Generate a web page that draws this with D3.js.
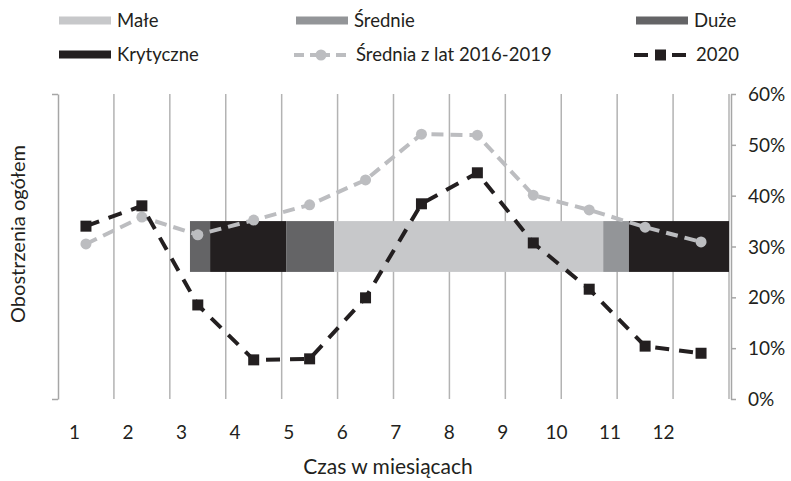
<!DOCTYPE html>
<html>
<head>
<meta charset="utf-8">
<script src="https://cdn.jsdelivr.net/npm/d3@7"></script>
<style>
  body { margin: 0; background: #fff; }
  svg text { font-family: Lato, "Open Sans", sans-serif; fill: #231f20; }
</style>
</head>
<body>
<svg id="chart"></svg>
<script>
// month labels and series (percent)
const months = [1, 2, 3, 4, 5, 6, 7, 8, 9, 10, 11, 12];
const avg2016_2019 = [30.5, 35.8, 32.3, 35.2, 38.2, 43.1, 52.1, 51.9, 40.1, 37.2, 33.8, 30.9];
const values2020 = [34.0, 38.0, 18.5, 7.7, 7.9, 19.9, 38.4, 44.5, 30.7, 21.6, 10.4, 9.0];
const yTicks = [0, 10, 20, 30, 40, 50, 60];

// restriction level phases along the time axis (months from start)
const phaseLevels = ["Duże", "Krytyczne", "Duże", "Małe", "Średnie", "Krytyczne"];
const phaseBounds = [2.36, 2.72, 4.08, 4.94, 9.75, 10.21, 12];
const phaseBand = [25, 35];

const levelNames = ["Małe", "Średnie", "Duże", "Krytyczne"];
const levelColors = ["#c7c8ca", "#939598", "#646466", "#231f20"];

const width = 791, height = 481;
const svg = d3.select("#chart").attr("width", width).attr("height", height);

const plotLeft = 58, plotRight = 729, plotTop = 94, plotBottom = 399;

const x = d3.scaleLinear().domain([0, 12]).range([plotLeft, plotRight]);
const y = d3.scaleLinear().domain([0, 60]).range([plotBottom, plotTop]);
const xLabel = d3.scalePoint().domain(months).range([74, 663]);
const color = d3.scaleOrdinal().domain(levelNames).range(levelColors);

// vertical gridlines
svg.append("g")
    .selectAll("line")
    .data(d3.range(1, 13))
    .join("line")
    .attr("x1", d => x(d)).attr("x2", d => x(d))
    .attr("y1", plotTop).attr("y2", plotBottom)
    .attr("stroke", "#b3b3b3")
    .attr("stroke-width", 1.5);

// left axis (no labels, end ticks only)
const leftAxis = svg.append("g")
    .attr("transform", `translate(${plotLeft},0)`)
    .call(d3.axisLeft(y).tickValues([0, 60]).tickFormat("").tickSize(6).tickSizeOuter(0));
leftAxis.selectAll("path, line").attr("stroke", "#a6a6a6").attr("stroke-width", 1.5);

// right axis
const rightAxis = svg.append("g")
    .attr("transform", `translate(${plotRight + 2},0)`)
    .call(d3.axisRight(y).tickValues(yTicks).tickFormat(d => d + "%").tickSize(5).tickSizeOuter(0));
rightAxis.selectAll("path, line").attr("stroke", "#a6a6a6").attr("stroke-width", 1.5);
rightAxis.selectAll("text")
    .attr("x", 17)
    .attr("dy", "0.35em")
    .style("font-size", "19px")
    .style("fill", "#231f20");

// bottom month labels
const bottomAxis = svg.append("g")
    .attr("transform", `translate(0,${plotBottom + 33})`)
    .call(d3.axisBottom(xLabel).tickSize(0));
bottomAxis.select(".domain").remove();
bottomAxis.selectAll("text")
    .attr("y", 0)
    .attr("dy", "0.35em")
    .style("font-size", "19px")
    .style("fill", "#231f20");

// phase bar
const phases = phaseLevels.map((lvl, i) => ({ level: lvl, start: phaseBounds[i], end: phaseBounds[i + 1] }));
svg.append("g")
    .selectAll("rect")
    .data(phases)
    .join("rect")
    .attr("x", d => x(d.start))
    .attr("width", d => x(d.end) - x(d.start))
    .attr("y", y(phaseBand[1]))
    .attr("height", y(phaseBand[0]) - y(phaseBand[1]))
    .attr("fill", d => color(d.level));

// lines
const mid = m => x(m - 0.5);
const line = d3.line().x((d, i) => mid(months[i])).y(d => y(d));

svg.append("path")
    .datum(avg2016_2019)
    .attr("fill", "none")
    .attr("stroke", "#bcbdc0")
    .attr("stroke-width", 4)
    .attr("stroke-dasharray", "12,7")
    .attr("d", line);

svg.append("g")
    .selectAll("circle")
    .data(avg2016_2019)
    .join("circle")
    .attr("cx", (d, i) => mid(months[i]))
    .attr("cy", d => y(d))
    .attr("r", 5.5)
    .attr("fill", "#bcbdc0");

svg.append("path")
    .datum(values2020)
    .attr("fill", "none")
    .attr("stroke", "#231f20")
    .attr("stroke-width", 4)
    .attr("stroke-dasharray", "14,10")
    .attr("d", line);

svg.append("g")
    .selectAll("rect")
    .data(values2020)
    .join("rect")
    .attr("x", (d, i) => mid(months[i]) - 5.5)
    .attr("y", d => y(d) - 5.5)
    .attr("width", 11)
    .attr("height", 11)
    .attr("fill", "#231f20");

// axis titles
svg.append("text")
    .attr("x", 388).attr("y", 467)
    .attr("text-anchor", "middle")
    .attr("dy", "0.35em")
    .style("font-size", "21px")
    .text("Czas w miesiącach");

svg.append("text")
    .attr("transform", "translate(18,234) rotate(-90)")
    .attr("text-anchor", "middle")
    .attr("dy", "0.35em")
    .style("font-size", "20px")
    .text("Obostrzenia ogółem");

// legend
const legendItems = [
    { name: "Małe", type: "bar", color: levelColors[0], x: 59, y: 21 },
    { name: "Średnie", type: "bar", color: levelColors[1], x: 296, y: 21 },
    { name: "Duże", type: "bar", color: levelColors[2], x: 636, y: 21 },
    { name: "Krytyczne", type: "bar", color: levelColors[3], x: 59, y: 55 },
    { name: "Średnia z lat 2016-2019", type: "circle", color: "#bcbdc0", x: 294, y: 55 },
    { name: "2020", type: "square", color: "#231f20", x: 634, y: 55 }
];

const lg = svg.append("g")
    .selectAll("g")
    .data(legendItems)
    .join("g")
    .attr("transform", d => `translate(${d.x},${d.y})`);

lg.filter(d => d.type === "bar")
    .append("rect")
    .attr("x", 0).attr("y", -4.5)
    .attr("width", 52).attr("height", 8)
    .attr("fill", d => d.color);

lg.filter(d => d.type !== "bar")
    .append("line")
    .attr("x1", 0).attr("x2", 52)
    .attr("stroke", d => d.color)
    .attr("stroke-width", 4)
    .attr("stroke-dasharray", d => d.type === "circle" ? "10,6,20,6,10" : "14,8,8,8,14");

lg.filter(d => d.type === "circle")
    .append("circle")
    .attr("cx", 27).attr("r", 5.5)
    .attr("fill", d => d.color);

lg.filter(d => d.type === "square")
    .append("rect")
    .attr("x", 21).attr("y", -5.5)
    .attr("width", 11).attr("height", 11)
    .attr("fill", d => d.color);

lg.append("text")
    .attr("x", d => d.type === "bar" ? 58 : 62)
    .attr("dy", "0.35em")
    .style("font-size", "18.5px")
    .text(d => d.name);
</script>
</body>
</html>
